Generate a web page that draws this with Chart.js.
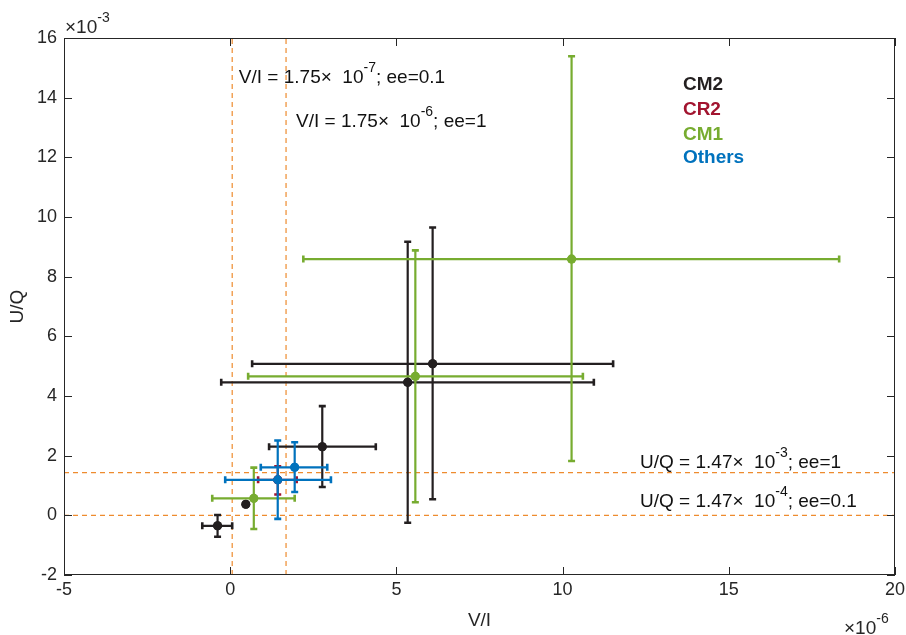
<!DOCTYPE html>
<html>
<head>
<meta charset="utf-8">
<script src="https://cdn.jsdelivr.net/npm/chart.js@4.4.0/dist/chart.umd.min.js"></script>
<style>
  html, body { margin: 0; padding: 0; background: #fff; }
</style>
</head>
<body>
<canvas id="chart" width="906" height="635"></canvas>
<script>
// values in units of 1e-6 (V/I) and 1e-3 (U/Q)
const groupNames = ['CM2', 'CR2', 'CM1', 'Others'];
const groupColors = ['#231F20', '#A2142F', '#77AC30', '#0072BD'];

const cm2X   = [-0.38, 0.47, 2.77, 5.34, 6.09];
const cm2Y   = [-0.35, 0.37, 2.30, 4.46, 5.08];
const cm2XLo = [-0.84, 0.47, 1.17, -0.27, 0.66];
const cm2XHi = [0.06, 0.47, 4.38, 10.94, 11.52];
const cm2YLo = [-0.72, 0.37, 0.95, -0.25, 0.54];
const cm2YHi = [0.01, 0.37, 3.66, 9.17, 9.65];

const cr2X   = [1.43];
const cr2Y   = [1.19];
const cr2XLo = [0.84];
const cr2XHi = [2.00];
const cr2YLo = [0.70];
const cr2YHi = [1.64];

const cm1X   = [0.71, 5.57, 10.27];
const cm1Y   = [0.57, 4.66, 8.59];
const cm1XLo = [-0.54, 0.54, 2.20];
const cm1XHi = [1.94, 10.61, 18.32];
const cm1YLo = [-0.46, 0.44, 1.82];
const cm1YHi = [1.60, 8.88, 15.39];

const othX   = [1.43, 1.94];
const othY   = [1.19, 1.61];
const othXLo = [-0.15, 0.92];
const othXHi = [3.03, 2.92];
const othYLo = [-0.12, 0.78];
const othYHi = [2.51, 2.45];

// threshold lines
const vLines = [0.06, 1.68];
const hLines = [1.43, 0.0];

const xTicks = [-5, 0, 5, 10, 15, 20];
const yTicks = [-2, 0, 2, 4, 6, 8, 10, 12, 14, 16];

const groups = [
  { x: cm2X, y: cm2Y, xlo: cm2XLo, xhi: cm2XHi, ylo: cm2YLo, yhi: cm2YHi },
  { x: cr2X, y: cr2Y, xlo: cr2XLo, xhi: cr2XHi, ylo: cr2YLo, yhi: cr2YHi },
  { x: cm1X, y: cm1Y, xlo: cm1XLo, xhi: cm1XHi, ylo: cm1YLo, yhi: cm1YHi },
  { x: othX, y: othY, xlo: othXLo, xhi: othXHi, ylo: othYLo, yhi: othYHi }
];

const orange = '#EE8B2E';
const axisColor = '#262626';
const fontFam = '"Liberation Sans", Arial, Helvetica, sans-serif';

const datasets = [];
vLines.forEach(v => datasets.push({
  type: 'line', data: [{ x: v, y: -2 }, { x: v, y: 16 }],
  borderColor: orange, borderWidth: 1.2, borderDash: [5, 4], pointRadius: 0, order: 10
}));
hLines.forEach(h => datasets.push({
  type: 'line', data: [{ x: -5, y: h }, { x: 20, y: h }],
  borderColor: orange, borderWidth: 1.2, borderDash: [5, 4], pointRadius: 0, order: 10
}));
groups.forEach((g, i) => datasets.push({
  label: groupNames[i],
  data: g.x.map((v, k) => ({ x: v, y: g.y[k] })),
  backgroundColor: groupColors[i], borderColor: groupColors[i],
  pointRadius: 4.5, pointBorderWidth: 0, order: 4 - i
}));

// error bars drawn through the scales
const errorBars = {
  id: 'errorBars',
  afterDatasetsDraw(chart) {
    const { ctx, scales: { x, y } } = chart;
    ctx.save();
    ctx.lineCap = 'butt';
    [0, 2, 1, 3].forEach(i => {
      const g = groups[i];
      ctx.strokeStyle = groupColors[i];
      ctx.fillStyle = groupColors[i];
      g.x.forEach((v, k) => {
        const px = x.getPixelForValue(v), py = y.getPixelForValue(g.y[k]);
        const x0 = x.getPixelForValue(g.xlo[k]), x1 = x.getPixelForValue(g.xhi[k]);
        const y0 = y.getPixelForValue(g.ylo[k]), y1 = y.getPixelForValue(g.yhi[k]);
        ctx.lineWidth = 2.2;
        ctx.beginPath();
        ctx.moveTo(x0, py); ctx.lineTo(x1, py);
        ctx.moveTo(px, y0); ctx.lineTo(px, y1);
        ctx.stroke();
        ctx.lineWidth = 2.6;
        ctx.beginPath();
        if (x1 - x0 > 1) {
          ctx.moveTo(x0, py - 3.5); ctx.lineTo(x0, py + 3.5);
          ctx.moveTo(x1, py - 3.5); ctx.lineTo(x1, py + 3.5);
        }
        if (y0 - y1 > 1) {
          ctx.moveTo(px - 3.5, y0); ctx.lineTo(px + 3.5, y0);
          ctx.moveTo(px - 3.5, y1); ctx.lineTo(px + 3.5, y1);
        }
        ctx.stroke();
        ctx.beginPath();
        ctx.arc(px, py, 4.5, 0, Math.PI * 2);
        ctx.fill();
      });
    });
    ctx.restore();
  }
};

// text with a superscript: parts = [[text, isSup], ...]
function drawRich(ctx, parts, x0, yMid, size) {
  let cx = x0;
  parts.forEach(([t, sup]) => {
    ctx.font = (sup ? Math.round(size * 0.74) : size) + 'px ' + fontFam;
    ctx.fillText(t, cx, sup ? yMid - size * 0.52 : yMid);
    cx += ctx.measureText(t).width;
  });
}

const decorations = {
  id: 'decorations',
  afterDraw(chart) {
    const { ctx, chartArea: a, scales: { x, y } } = chart;
    ctx.save();
    // axes box with inward ticks
    ctx.strokeStyle = axisColor;
    ctx.lineWidth = 1;
    ctx.strokeRect(a.left + 0.5, a.top + 0.5, a.right - a.left - 1, a.bottom - a.top - 1);
    ctx.beginPath();
    xTicks.forEach(v => {
      const px = Math.round(x.getPixelForValue(v)) + 0.5;
      ctx.moveTo(px, a.bottom); ctx.lineTo(px, a.bottom - 8);
      ctx.moveTo(px, a.top); ctx.lineTo(px, a.top + 8);
    });
    yTicks.forEach(v => {
      const py = Math.round(y.getPixelForValue(v)) + 0.5;
      ctx.moveTo(a.left, py); ctx.lineTo(a.left + 8, py);
      ctx.moveTo(a.right, py); ctx.lineTo(a.right - 8, py);
    });
    ctx.stroke();

    ctx.textBaseline = 'middle';
    ctx.textAlign = 'left';
    // exponent labels
    ctx.fillStyle = axisColor;
    drawRich(ctx, [['\u00d710', false], ['-3', true]], 65, 28, 19);
    drawRich(ctx, [['\u00d710', false], ['-6', true]], 844, 629, 19);

    // threshold annotations
    ctx.fillStyle = '#111';
    const notes = [
      [0.26, 14.66, 'V/I = 1.75\u00d7  10', '-7', '; ee=0.1'],
      [1.98, 13.18, 'V/I = 1.75\u00d7  10', '-6', '; ee=1'],
      [12.33, 1.75, 'U/Q = 1.47\u00d7  10', '-3', '; ee=1'],
      [12.33, 0.45, 'U/Q = 1.47\u00d7  10', '-4', '; ee=0.1']
    ];
    notes.forEach(([vx, vy, head, e, tail]) => {
      drawRich(ctx, [[head, false], [e, true], [tail, false]],
        x.getPixelForValue(vx), y.getPixelForValue(vy), 19);
    });

    // legend as coloured labels
    const legY = [14.43, 13.6, 12.75, 11.97];
    groupNames.forEach((n, i) => {
      ctx.font = 'bold 19px ' + fontFam;
      ctx.fillStyle = groupColors[i];
      ctx.fillText(n, x.getPixelForValue(13.62), y.getPixelForValue(legY[i]));
    });
    ctx.restore();
  }
};

new Chart(document.getElementById('chart').getContext('2d'), {
  type: 'scatter',
  data: { datasets },
  options: {
    responsive: false,
    animation: false,
    layout: { padding: { top: 38, right: 11, left: 0, bottom: 0 } },
    plugins: { legend: { display: false }, tooltip: { enabled: false } },
    scales: {
      x: {
        type: 'linear', min: -5, max: 20,
        afterBuildTicks: s => { s.ticks = xTicks.map(v => ({ value: v })); },
        afterFit: s => { s.height = 60; s.paddingLeft = 0; s.paddingRight = 0; },
        grid: { display: false, drawTicks: false },
        border: { display: false },
        ticks: { color: axisColor, font: { family: fontFam, size: 18 }, padding: 4, maxRotation: 0 },
        title: { display: true, text: 'V/I', color: axisColor, font: { family: fontFam, size: 19 }, padding: 3 }
      },
      y: {
        type: 'linear', min: -2, max: 16,
        afterBuildTicks: s => { s.ticks = yTicks.map(v => ({ value: v })); },
        afterFit: s => { s.width = 64; s.paddingTop = 0; s.paddingBottom = 0; },
        grid: { display: false, drawTicks: false },
        border: { display: false },
        ticks: { color: axisColor, font: { family: fontFam, size: 18 }, padding: 7 },
        title: { display: true, text: 'U/Q', color: axisColor, font: { family: fontFam, size: 19 }, padding: 6 }
      }
    }
  },
  plugins: [errorBars, decorations]
});
</script>
</body>
</html>
